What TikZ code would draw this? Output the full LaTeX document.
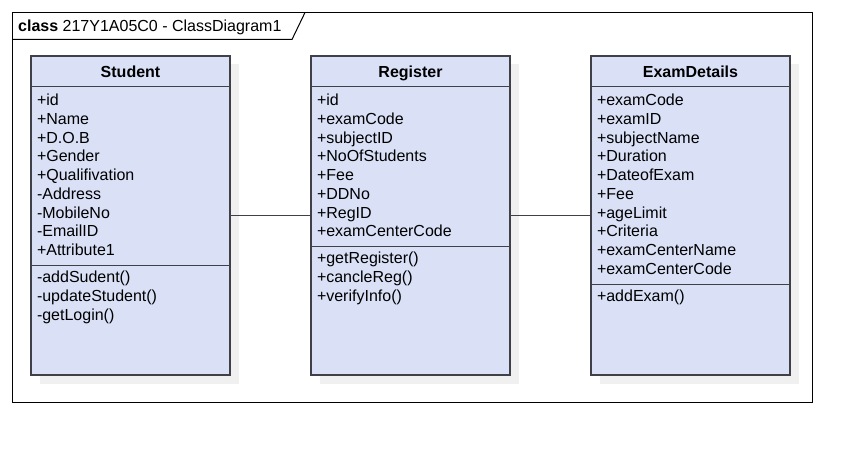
\documentclass[tikz,border=0pt]{standalone}
\usepackage{fontspec}
\setmainfont{Liberation Sans}
\usetikzlibrary{shadows}
\definecolor{classfill}{RGB}{218,225,247}
\definecolor{classdraw}{RGB}{64,64,72}

\begin{document}
\begin{tikzpicture}[x=1pt, y=-1pt, node distance=280pt, classbox/.style={rectangle, draw=classdraw, fill=classfill, line width=1.4pt, minimum width=199pt, minimum height=319pt, inner sep=0pt, drop shadow={shadow xshift=8.5pt, shadow yshift=-8.5pt, fill=black!6, opacity=1}}, classname/.style={anchor=base, font=\bfseries\fontsize{16}{18.75}\selectfont}, members/.style={anchor=north west, align=left, inner sep=0pt, font=\fontsize{16}{18.75}\selectfont}, sepline/.style={classdraw, line width=1.4pt}, assoc/.style={classdraw, line width=1.4pt}]

  \useasboundingbox (0,0) rectangle (862,452);

  % diagram frame with its name tab
  \draw[black, line width=1pt] (12.5,12.5) rectangle (812.5,402.5);
  \node[anchor=base west, inner sep=0pt, font=\fontsize{16}{18.75}\selectfont] (title) at (18,31.5) {\textbf{class} 217Y1A05C0 - ClassDiagram1};
  \draw[black, line width=1pt] (12.5,39.5) -- (292,39.5) -- (305,12.5);

  \node[classbox] (student) at (130.5,215.5) {};
  \node[classbox, right of=student] (register) {};
  \node[classbox, right of=register] (exam) {};

  \node[classname] (studentname) at ([yshift=-22pt]student.north) {Student};
  \node[classname] (registername) at ([yshift=-22pt]register.north) {Register};
  \node[classname] (examname) at ([yshift=-22pt]exam.north) {ExamDetails};

  \draw[sepline] ([yshift=-31pt]student.north west) -- ([yshift=-31pt]student.north east);
  \draw[sepline] ([yshift=-31pt]register.north west) -- ([yshift=-31pt]register.north east);
  \draw[sepline] ([yshift=-31pt]exam.north west) -- ([yshift=-31pt]exam.north east);
  \draw[sepline] ([yshift=-210pt]student.north west) -- ([yshift=-210pt]student.north east);
  \draw[sepline] ([yshift=-191pt]register.north west) -- ([yshift=-191pt]register.north east);
  \draw[sepline] ([yshift=-229pt]exam.north west) -- ([yshift=-229pt]exam.north east);

  \node[members] (studentattr) at ([xshift=6.5pt, yshift=-38.5pt]student.north west) {+id\\+Name\\+D.O.B\\+Gender\\+Qualifivation\\-Address\\-MobileNo\\-EmailID\\+Attribute1};
  \node[members] (studentops) at ([xshift=6.5pt, yshift=-215.5pt]student.north west) {-addSudent()\\-updateStudent()\\-getLogin()};

  \node[members] (registerattr) at ([xshift=6.5pt, yshift=-38.5pt]register.north west) {+id\\+examCode\\+subjectID\\+NoOfStudents\\+Fee\\+DDNo\\+RegID\\+examCenterCode};
  \node[members] (registerops) at ([xshift=6.5pt, yshift=-196.5pt]register.north west) {+getRegister()\\+cancleReg()\\+verifyInfo()};

  \node[members] (examattr) at ([xshift=6.5pt, yshift=-38.5pt]exam.north west) {+examCode\\+examID\\+subjectName\\+Duration\\+DateofExam\\+Fee\\+ageLimit\\+Criteria\\+examCenterName\\+examCenterCode};
  \node[members] (examops) at ([xshift=6.5pt, yshift=-234.5pt]exam.north west) {+addExam()};

  \draw[assoc] (student) -- (register);
  \draw[assoc] (register) -- (exam);
\end{tikzpicture}
\end{document}
